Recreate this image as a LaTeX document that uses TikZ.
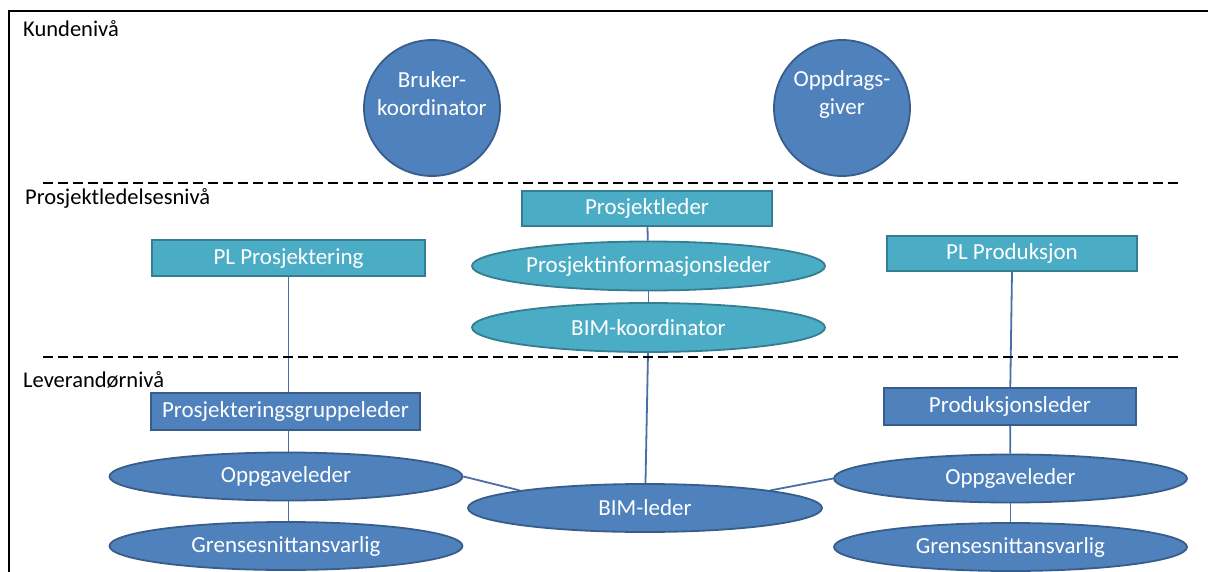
\documentclass[tikz,border=0pt]{standalone}
\usepackage{fontspec}
\setmainfont{Carlito}
\usetikzlibrary{shapes.geometric,backgrounds}
\definecolor{tealfill}{HTML}{4BACC6}
\definecolor{tealline}{HTML}{357D91}
\definecolor{bluefill}{HTML}{4F81BD}
\definecolor{blueline}{HTML}{385D8A}
\definecolor{conn}{HTML}{4A6FA8}
\tikzset{
  base/.style={text=white, font=\fontsize{23}{28}\selectfont, inner sep=0pt, line width=1.8pt},
  tealbox/.style={base, rectangle, fill=tealfill, draw=tealline, minimum width=250pt, minimum height=35pt},
  tealell/.style={base, ellipse, fill=tealfill, draw=tealline, minimum width=353pt, minimum height=49pt},
  bluebox/.style={base, rectangle, fill=bluefill, draw=blueline, minimum height=37pt},
  blueell/.style={base, ellipse, fill=bluefill, draw=blueline, minimum width=353pt, minimum height=48pt},
  bluecirc/.style={base, circle, fill=bluefill, draw=blueline, minimum size=136pt},
  circtext/.style={text=white, font=\fontsize{23}{28}\selectfont, inner sep=0pt, align=center, yshift=14pt},
  level/.style={anchor=base west, inner sep=0pt, font=\fontsize{22.5}{27}\selectfont},
  sep/.style={line width=1.5pt, dash pattern=on 10pt off 5pt},
  link/.style={draw=conn, line width=1.8pt}
}
\begin{document}
\begin{tikzpicture}[x=1pt,y=-1pt]
\useasboundingbox (0,0) rectangle (1208,572);
\draw[line width=1.2pt] (9,572) -- (9,11) -- (1208,11);
% level labels
\node[level] (lk) at (23,37) {Kundenivå};
\node[level] (lp) at (25,205) {Prosjektledelsesnivå};
\node[level] (ll) at (23,387) {Leverandørnivå};
% separators
\coordinate (s1a) at (43,183); \coordinate (s1b) at (1182,183);
\coordinate (s2a) at (43,357); \coordinate (s2b) at (1182,357);
% customer level
\node[bluecirc, label={[circtext]center:{Bruker-\\koordinator}}] (bk) at (432,108) {};
\node[bluecirc, label={[circtext]center:{Oppdrags-\\giver}}] (og) at (842,108) {};
% project management level
\node[tealbox] (pl) at (647,208.5) {Prosjektleder};
\node[tealbox, minimum width=273pt, minimum height=36pt] (plp) at (288.5,258) {PL Prosjektering};
\node[tealbox] (plpr) at (1012,253.5) {PL Produksjon};
\node[tealell] (pil) at (648.5,266) {Prosjektinformasjonsleder};
\node[tealell] (bk2) at (648.5,327.5) {BIM-koordinator};
% supplier level
\node[bluebox, minimum width=269pt] (pgl) at (285.5,411.5) {Prosjekteringsgruppeleder};
\node[bluebox, minimum width=252pt] (prl) at (1010,406.5) {Produksjonsleder};
\node[blueell] (ol1) at (286,476.5) {Oppgaveleder};
\node[blueell] (gs1) at (286,546) {Grensesnittansvarlig};
\node[blueell, minimum width=354pt] (bim) at (645,508) {BIM-leder};
\node[blueell] (ol2) at (1010.5,478.5) {Oppgaveleder};
\node[blueell] (gs2) at (1010.5,547) {Grensesnittansvarlig};
\draw[sep] (s1a) -- (s1b);
\draw[sep] (s2a) -- (s2b);
% connectors
\begin{scope}[on background layer]
\fill[white] (0,0) rectangle (1208,572);
\draw[link] (pl) -- (pil);
\draw[link] (pil) -- (bk2);
\draw[link] (plp.south) -- (plp.south |- pgl.north);
\draw[link] (plp.south |- pgl.south) -- (plp.south |- ol1.center);
\draw[link] (plp.south |- ol1.center) -- (plp.south |- gs1.center);
\draw[link] (plpr.south) -- (prl);
\draw[link] (prl) -- (ol2);
\draw[link] (ol2) -- (gs2);
\draw[link] (bk2) -- (bim);
\draw[link] (ol1.east) -- (bim.172);
\draw[link] (ol2.west) -- (bim.8);
\end{scope}
\end{tikzpicture}
\end{document}
